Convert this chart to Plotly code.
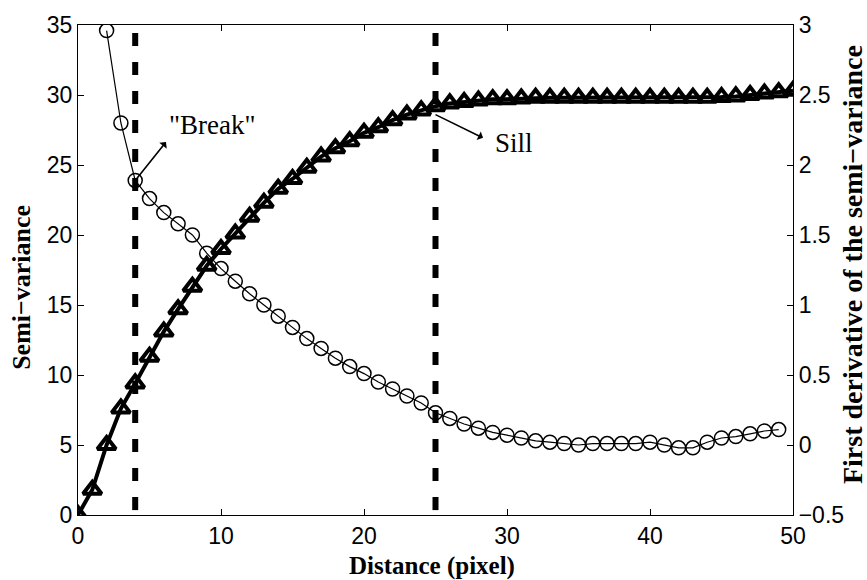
import plotly.graph_objects as go

# Data
dist_tri = list(range(0, 51))
semivar = [0, 1.8, 5.0, 7.6, 9.4, 11.3, 13.1, 14.7, 16.3, 17.8,
           19.0, 20.1, 21.3, 22.3, 23.3, 24.0, 24.8, 25.6, 26.2, 26.7,
           27.3, 27.7, 28.2, 28.6, 28.9, 29.2, 29.4, 29.5, 29.6, 29.7,
           29.7, 29.75, 29.8, 29.8, 29.8, 29.8, 29.8, 29.8, 29.8, 29.8,
           29.8, 29.8, 29.8, 29.8, 29.8, 29.85, 29.9, 30.0, 30.1, 30.2, 30.3]

dist_circ = list(range(2, 50))
deriv = [2.96, 2.30, 1.89, 1.76, 1.66, 1.58, 1.50, 1.37, 1.26, 1.17,
         1.08, 1.00, 0.92, 0.84, 0.76, 0.69, 0.62, 0.56, 0.51, 0.45,
         0.40, 0.35, 0.30, 0.23, 0.19, 0.15, 0.12, 0.09, 0.07, 0.05,
         0.03, 0.02, 0.01, 0.0, 0.01, 0.01, 0.01, 0.01, 0.02, 0.0,
         -0.02, -0.02, 0.02, 0.05, 0.06, 0.08, 0.10, 0.11]

break_x = 4
sill_x = 25

x_ticks = [0, 10, 20, 30, 40, 50]
y_ticks = [0, 5, 10, 15, 20, 25, 30, 35]
y2_ticks = [-0.5, 0, 0.5, 1, 1.5, 2, 2.5, 3]
y2_labels = ["\u22120.5", "0", "0.5", "1", "1.5", "2", "2.5", "3"]

SANS = "Arial, Liberation Sans, sans-serif"
SERIF = "Times New Roman, Liberation Serif, serif"

L, R, T, B = 78, 74, 21, 65
W, H = 867, 580
pw, ph = W - L - R, H - T - B

fig = go.Figure()

fig.add_trace(go.Scatter(
    x=dist_tri, y=semivar, mode="lines+markers",
    line=dict(color="black", width=4),
    marker=dict(symbol="triangle-up-open", size=16, color="black",
                line=dict(color="black", width=4)),
    yaxis="y", showlegend=False))

fig.add_trace(go.Scatter(
    x=dist_circ, y=deriv, mode="lines+markers",
    line=dict(color="black", width=1.2),
    marker=dict(symbol="circle-open", size=14, color="black",
                line=dict(color="black", width=1.5)),
    yaxis="y2", showlegend=False))

for xv in (break_x, sill_x):
    fig.add_shape(type="line", xref="x", yref="paper", x0=xv, x1=xv,
                  y0=0.01, y1=0.99,
                  line=dict(color="black", width=6, dash="13px,16px"))

# arrows (head away from the point)
fig.add_annotation(x=break_x, y=deriv[break_x - 2], xref="x", yref="y2",
                   text="", showarrow=True, arrowside="start",
                   ax=32, ay=-40, arrowhead=2, arrowsize=1.8,
                   arrowwidth=1.6, arrowcolor="black")
fig.add_annotation(x=sill_x, y=28.6, xref="x", yref="y",
                   text="", showarrow=True, arrowside="start",
                   ax=49, ay=24, arrowhead=2, arrowsize=1.8,
                   arrowwidth=1.6, arrowcolor="black")

fig.add_annotation(x=9.4, y=27.85, xref="x", yref="y", text='"Break"',
                   showarrow=False, font=dict(family=SERIF, size=27, color="black"))
fig.add_annotation(x=30.5, y=26.6, xref="x", yref="y", text="Sill",
                   showarrow=False, font=dict(family=SERIF, size=27, color="black"))

# axis titles placed at pixel positions
fig.add_annotation(x=(22 - L) / pw, y=(H - 285 - B) / ph, xref="paper", yref="paper",
                   xanchor="center", yanchor="middle",
                   text="<b>Semi\u2212variance</b>", showarrow=False, textangle=-90,
                   font=dict(family=SERIF, size=26, color="black"))
fig.add_annotation(x=(432 - L) / pw, y=(H - 566 - B) / ph, xref="paper", yref="paper",
                   xanchor="center", yanchor="middle",
                   text="<b>Distance (pixel)</b>", showarrow=False,
                   font=dict(family=SERIF, size=25, color="black"))
fig.add_annotation(x=(852 - L) / pw, y=(H - 263 - B) / ph, xref="paper", yref="paper",
                   xanchor="center", yanchor="middle",
                   text="<b>First derivative of the semi\u2212variance</b>",
                   showarrow=False, textangle=-90,
                   font=dict(family=SERIF, size=28, color="black"))

axis_common = dict(showline=True, linecolor="black", linewidth=1.2,
                   ticks="inside", ticklen=6, tickcolor="black", tickwidth=1,
                   showgrid=False, zeroline=False,
                   tickfont=dict(family=SANS, size=23, color="black"))

fig.update_layout(
    width=W, height=H,
    margin=dict(l=L, r=R, t=T, b=B),
    paper_bgcolor="white", plot_bgcolor="white",
    xaxis=dict(range=[0, 50], tickvals=x_ticks, mirror="ticks", **axis_common),
    yaxis=dict(range=[0, 35], tickvals=y_ticks, **axis_common),
    yaxis2=dict(range=[-0.5, 3], tickvals=y2_ticks, ticktext=y2_labels,
                overlaying="y", side="right", **axis_common),
)

fig.write_html("out.html")
